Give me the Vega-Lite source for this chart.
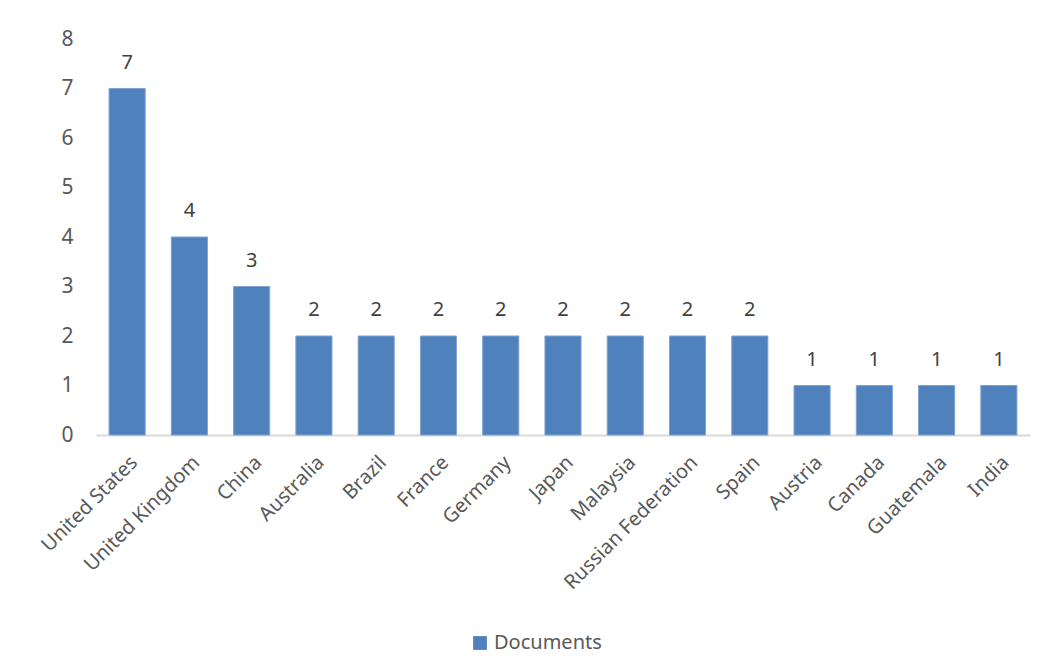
{
  "$schema": "https://vega.github.io/schema/vega-lite/v6.json",
  "width": 934,
  "height": 396,
  "autosize": {"type": "none"},
  "padding": {"left": 96, "top": 39, "right": 16, "bottom": 237},
  "background": "white",
  "config": {
    "view": {"stroke": null},
    "font": "Noto Sans"
  },
  "data": {
    "values": [
      {"country": "United States", "docs": 7, "series": "Documents"},
      {"country": "United Kingdom", "docs": 4, "series": "Documents"},
      {"country": "China", "docs": 3, "series": "Documents"},
      {"country": "Australia", "docs": 2, "series": "Documents"},
      {"country": "Brazil", "docs": 2, "series": "Documents"},
      {"country": "France", "docs": 2, "series": "Documents"},
      {"country": "Germany", "docs": 2, "series": "Documents"},
      {"country": "Japan", "docs": 2, "series": "Documents"},
      {"country": "Malaysia", "docs": 2, "series": "Documents"},
      {"country": "Russian Federation", "docs": 2, "series": "Documents"},
      {"country": "Spain", "docs": 2, "series": "Documents"},
      {"country": "Austria", "docs": 1, "series": "Documents"},
      {"country": "Canada", "docs": 1, "series": "Documents"},
      {"country": "Guatemala", "docs": 1, "series": "Documents"},
      {"country": "India", "docs": 1, "series": "Documents"}
    ]
  },
  "encoding": {
    "x": {
      "field": "country", "type": "nominal", "sort": null, "title": null,
      "scale": {"paddingInner": 0.42, "paddingOuter": 0.21},
      "axis": {
        "labelAngle": -45, "labelFontSize": 20, "labelColor": "#595959",
        "domainColor": "#D9D9D9", "domainWidth": 2, "ticks": false, "labelPadding": 17
      }
    },
    "y": {
      "field": "docs", "type": "quantitative", "title": null,
      "scale": {"domain": [0, 8]},
      "axis": {
        "tickCount": 8, "grid": false, "domain": false, "ticks": false,
        "labelFontSize": 21, "labelColor": "#595959", "labelPadding": 23
      }
    }
  },
  "layer": [
    {
      "mark": {"type": "bar", "stroke": "#7FA3D2", "strokeWidth": 1},
      "encoding": {
        "color": {
          "field": "series", "type": "nominal",
          "scale": {"range": ["#4F81BD"]},
          "legend": {
            "title": null, "orient": "none", "legendX": 374, "legendY": 594,
            "direction": "horizontal",
            "symbolType": "square", "symbolSize": 190, "symbolStrokeWidth": 0,
            "labelFontSize": 20, "labelColor": "#595959"
          }
        }
      }
    },
    {
      "mark": {"type": "text", "dy": -26, "fontSize": 20, "color": "#404040"},
      "encoding": {"text": {"field": "docs", "type": "quantitative"}}
    }
  ]
}
